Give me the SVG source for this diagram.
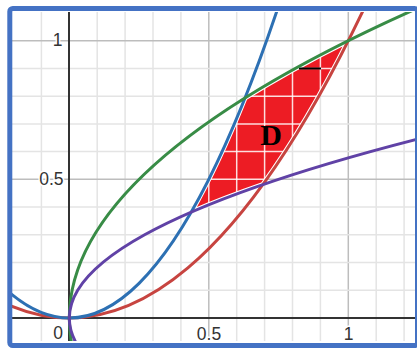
<svg xmlns="http://www.w3.org/2000/svg" width="417" height="348" viewBox="0 0 417 348">
  <style>
    .minor { stroke: #e4e4e4; stroke-width: 1.5; }
    .major { stroke: #bdbdbd; stroke-width: 1.5; }
    .axis { stroke: #333333; stroke-width: 2; }
    .curve { fill: none; stroke-width: 3; stroke-linecap: round; }
    .tick { font-family: "Liberation Sans", Arial, sans-serif; font-size: 17.5px; fill: #333333; stroke: #ffffff; stroke-width: 3; paint-order: stroke; stroke-linejoin: round; }
    .inner { stroke: #ffffff; stroke-width: 1.5; stroke-opacity: 0.85; }
  </style>
  <defs>
    <clipPath id="plot"><rect x="12" y="12" width="405" height="329"/></clipPath>
    <clipPath id="regionClip">
      <path d="M191.17,212.18 Q218.12,165.38 245.07,97.91 Q290.74,69.3 348.3,40.7 Q305.53,125.72 262.75,184.69 Q222.85,198.43 191.17,212.18 Z"/>
    </clipPath>
  </defs>
  <rect x="0" y="0" width="417" height="348" fill="#ffffff"/>

  <g id="grid" clip-path="url(#plot)">
    <line class="minor" x1="41.4" y1="12" x2="41.4" y2="341"/>
    <line class="minor" x1="97.2" y1="12" x2="97.2" y2="341"/>
    <line class="minor" x1="125.1" y1="12" x2="125.1" y2="341"/>
    <line class="minor" x1="153" y1="12" x2="153" y2="341"/>
    <line class="minor" x1="180.9" y1="12" x2="180.9" y2="341"/>
    <line class="major" x1="208.8" y1="12" x2="208.8" y2="341"/>
    <line class="minor" x1="236.7" y1="12" x2="236.7" y2="341"/>
    <line class="minor" x1="264.6" y1="12" x2="264.6" y2="341"/>
    <line class="minor" x1="292.5" y1="12" x2="292.5" y2="341"/>
    <line class="minor" x1="320.4" y1="12" x2="320.4" y2="341"/>
    <line class="major" x1="348.3" y1="12" x2="348.3" y2="341"/>
    <line class="minor" x1="376.2" y1="12" x2="376.2" y2="341"/>
    <line class="minor" x1="404.1" y1="12" x2="404.1" y2="341"/>
    <line class="minor" x1="12" y1="290.27" x2="417" y2="290.27"/>
    <line class="minor" x1="12" y1="262.54" x2="417" y2="262.54"/>
    <line class="minor" x1="12" y1="234.81" x2="417" y2="234.81"/>
    <line class="minor" x1="12" y1="207.08" x2="417" y2="207.08"/>
    <line class="major" x1="12" y1="179.35" x2="417" y2="179.35"/>
    <line class="minor" x1="12" y1="151.62" x2="417" y2="151.62"/>
    <line class="minor" x1="12" y1="123.89" x2="417" y2="123.89"/>
    <line class="minor" x1="12" y1="96.16" x2="417" y2="96.16"/>
    <line class="minor" x1="12" y1="68.43" x2="417" y2="68.43"/>
    <line class="major" x1="12" y1="40.7" x2="417" y2="40.7"/>
  </g>

  <g id="axes" clip-path="url(#plot)">
    <line class="axis" x1="69" y1="12" x2="69" y2="341"/>
    <line class="axis" x1="12" y1="318" x2="417" y2="318"/>
  </g>

  <g id="tick-labels">
    <text class="tick" x="62.5" y="45.5" text-anchor="end">1</text>
    <text class="tick" x="63.5" y="185" text-anchor="end">0.5</text>
    <text class="tick" x="58" y="338.5" text-anchor="middle">0</text>
    <text class="tick" x="209" y="339.5" text-anchor="middle">0.5</text>
    <text class="tick" x="348.5" y="339.5" text-anchor="middle">1</text>
  </g>

  <g id="region-D">
    <path d="M191.17,212.18 Q218.12,165.38 245.07,97.91 Q290.74,69.3 348.3,40.7 Q305.53,125.72 262.75,184.69 Q222.85,198.43 191.17,212.18 Z" fill="#ed1c24"/>
    <g clip-path="url(#regionClip)">
      <line class="inner" x1="208.8" y1="30" x2="208.8" y2="220"/>
      <line class="inner" x1="236.7" y1="30" x2="236.7" y2="220"/>
      <line class="inner" x1="264.6" y1="30" x2="264.6" y2="220"/>
      <line class="inner" x1="292.5" y1="30" x2="292.5" y2="220"/>
      <line class="inner" x1="320.4" y1="30" x2="320.4" y2="220"/>
      <line class="inner" x1="180" y1="179.35" x2="360" y2="179.35"/>
      <line class="inner" x1="180" y1="151.62" x2="360" y2="151.62"/>
      <line class="inner" x1="180" y1="123.89" x2="360" y2="123.89"/>
      <line class="inner" x1="180" y1="96.16" x2="360" y2="96.16"/>
      <line class="inner" x1="180" y1="68.43" x2="360" y2="68.43"/>
      <path d="M191.17,212.18 Q218.12,165.38 245.07,97.91 Q290.74,69.3 348.3,40.7 Q305.53,125.72 262.75,184.69 Q222.85,198.43 191.17,212.18 Z" fill="none" stroke="#ffffff" stroke-width="5"/>
    </g>
    <line x1="299" y1="68.5" x2="321" y2="68.5" stroke="#000000" stroke-width="2"/>
    <text x="271" y="145" text-anchor="middle" font-family="Liberation Serif, 'Times New Roman', serif" font-weight="bold" font-size="30" fill="#000000">D</text>
  </g>

  <g id="curves" clip-path="url(#plot)">
    <path id="red-curve" class="curve" stroke="#c74440" d="M-0.45,300.67 Q187.88,394.26 376.2,-17.5"/>
    <path id="blue-curve" class="curve" stroke="#2d70b3" d="M-0.45,283.34 Q139.05,421.99 278.55,6.04"/>
    <path id="green-curve" class="curve" stroke="#388c46" d="M72.09,345.73 Q37.21,172.42 438.28,-0.9"/>
    <path id="purple-curve" class="curve" stroke="#6042a6" d="M77.67,345.73 Q10.71,234.81 479.43,123.89"/>
  </g>

  <rect id="frame" x="9.8" y="8.5" width="407.7" height="337" rx="3" fill="none" stroke="#4472c4" stroke-width="5"/>
</svg>
